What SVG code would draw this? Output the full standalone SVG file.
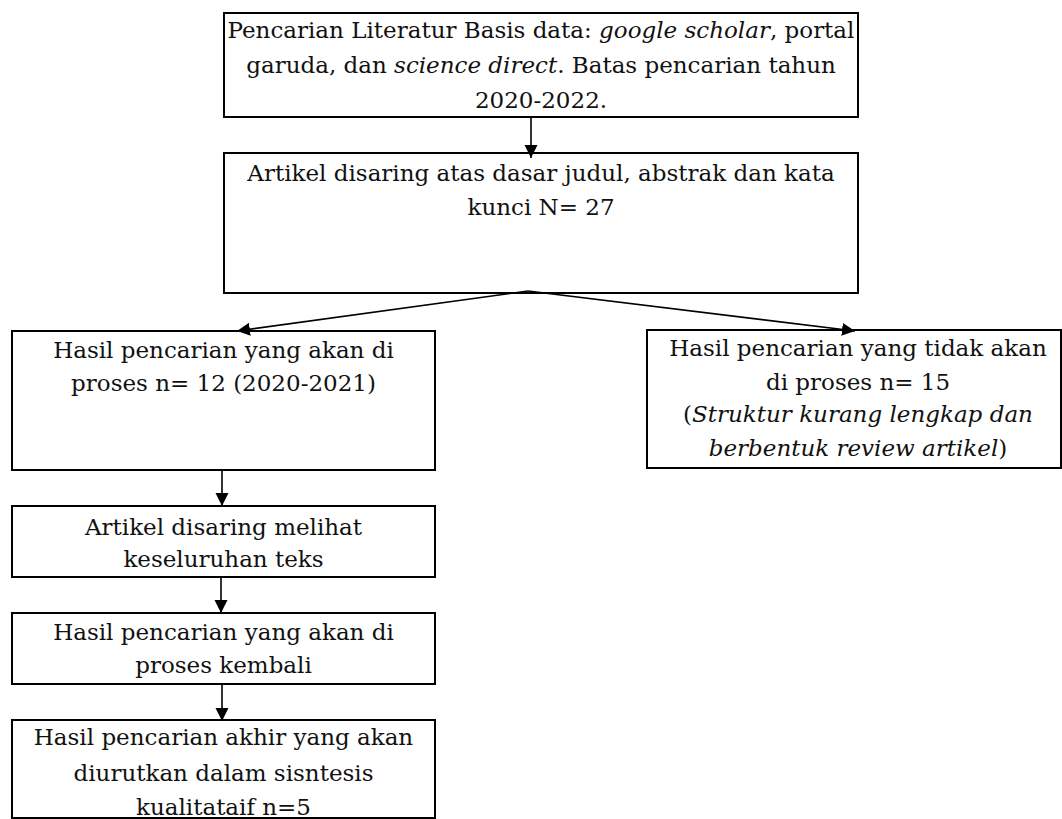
<svg xmlns="http://www.w3.org/2000/svg" width="1062" height="819" viewBox="0 0 1062 819">
<style>
.box{fill:#fff;stroke:#000;stroke-width:2}
.t{font-family:"DejaVu Serif","Liberation Serif",serif;font-size:23px;fill:#111;text-anchor:middle}
.i{font-style:italic}
.c{fill:none;stroke:#000;stroke-width:1.6}
</style>
<defs>
<marker id="ah" markerUnits="userSpaceOnUse" markerWidth="14" markerHeight="14" refX="13" refY="6.5" orient="auto">
<path d="M0,0 L13,6.5 L0,13 z" fill="#000"/>
</marker>
</defs>
<g id="n1">
<rect class="box" x="224" y="13" width="634" height="104"/>
<text class="t" x="541" y="38">Pencarian Literatur Basis data: <tspan class="i">google scholar</tspan>, portal</text>
<text class="t" x="541" y="73">garuda, dan <tspan class="i">science direct</tspan>. Batas pencarian tahun</text>
<text class="t" x="541" y="108">2020-2022.</text>
</g>
<g id="n2">
<rect class="box" x="224" y="153" width="634" height="140"/>
<text class="t" x="541" y="181">Artikel disaring atas dasar judul, abstrak dan kata</text>
<text class="t" x="541" y="215">kunci N= 27</text>
</g>
<g id="n3">
<rect class="box" x="12" y="331" width="423" height="139"/>
<text class="t" x="223.5" y="358">Hasil pencarian yang akan di</text>
<text class="t" x="223.5" y="391">proses n= 12 (2020-2021)</text>
</g>
<g id="n4">
<rect class="box" x="647" y="330" width="414" height="138"/>
<text class="t" x="858" y="356">Hasil pencarian yang tidak akan</text>
<text class="t" x="858" y="390">di proses n= 15</text>
<text class="t" x="858" y="422">(<tspan class="i">Struktur kurang lengkap dan</tspan></text>
<text class="t" x="858" y="456"><tspan class="i">berbentuk review artikel</tspan>)</text>
</g>
<g id="n5">
<rect class="box" x="12" y="506" width="423" height="71"/>
<text class="t" x="223.5" y="535">Artikel disaring melihat</text>
<text class="t" x="223.5" y="567">keseluruhan teks</text>
</g>
<g id="n6">
<rect class="box" x="12" y="613" width="423" height="71"/>
<text class="t" x="223.5" y="640">Hasil pencarian yang akan di</text>
<text class="t" x="223.5" y="673">proses kembali</text>
</g>
<g id="n7">
<rect class="box" x="12" y="720" width="423" height="98"/>
<text class="t" x="223.5" y="745">Hasil pencarian akhir yang akan</text>
<text class="t" x="223.5" y="781">diurutkan dalam sisntesis</text>
<text class="t" x="223.5" y="815">kualitataif n=5</text>
</g>
<g id="connectors">
<line class="c" x1="531" y1="118" x2="531" y2="158" marker-end="url(#ah)"/>
<line class="c" x1="528" y1="291" x2="237" y2="331" marker-end="url(#ah)"/>
<line class="c" x1="528" y1="291" x2="855" y2="331" marker-end="url(#ah)"/>
<line class="c" x1="222" y1="471" x2="222" y2="506" marker-end="url(#ah)"/>
<line class="c" x1="221" y1="578" x2="221" y2="613" marker-end="url(#ah)"/>
<line class="c" x1="222" y1="685" x2="222" y2="721" marker-end="url(#ah)"/>
</g>
</svg>
